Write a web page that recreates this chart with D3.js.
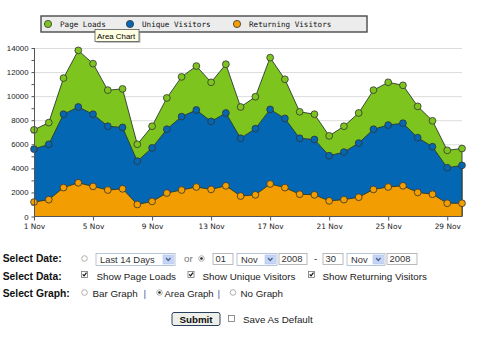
<!DOCTYPE html>
<html><head><meta charset="utf-8">
<script src="https://cdn.jsdelivr.net/npm/d3@7"></script>
<style>body{margin:0;background:#fff}svg{display:block}</style>
</head><body><svg id="c" width="500" height="341"></svg>
<script>
// Daily traffic, November 2008
const days = d3.range(1, 31);
const pageLoads = [7200,7800,11500,13800,12700,10500,10600,6000,7500,9850,11600,12500,11150,12650,9100,9950,13200,11400,8700,8500,6700,7500,8600,10500,11150,10900,9150,7950,5500,5650];
const uniqueVisitors = [5600,6000,8500,9100,8500,7500,7400,4600,5700,7250,8300,8850,7900,8600,6500,7300,8900,8150,6500,6400,5050,5350,6100,7250,7600,7750,6550,5800,4050,4250];
const returningVisitors = [1200,1400,2400,2800,2500,2200,2300,1000,1250,1950,2200,2450,2250,2550,1700,1800,2700,2400,1850,1800,1300,1400,1600,2250,2450,2550,2000,1850,1100,1100];
const seriesNames = ["Page Loads", "Unique Visitors", "Returning Visitors"];
const seriesColors = ["#7ec41f", "#0467b3", "#f29e03"];
const yTicks = [0,2000,4000,6000,8000,10000,12000,14000];
const xTickDays = [1,5,9,13,17,21,25,29];
const monthLabel = "Nov";

const svg = d3.select("#c");
const x = d3.scaleLinear().domain([1, 30]).range([34, 462]);
const y = d3.scaleLinear().domain([0, 14000]).range([216.5, 48]);

// grid
svg.append("g").selectAll("line").data(yTicks.slice(1)).join("line")
  .attr("x1", x(1)).attr("x2", x(30))
  .attr("y1", d => y(d) + 0.5).attr("y2", d => y(d) + 0.5)
  .attr("stroke", "#dcdcdc").attr("stroke-width", 1);

// areas, back to front
const allSeries = [pageLoads, uniqueVisitors, returningVisitors];
const area = d3.area().x((d, i) => x(days[i])).y0(y(0)).y1(d => y(d));
const line = d3.line().x((d, i) => x(days[i])).y(d => y(d));
allSeries.forEach((vals, s) => {
  svg.append("path").datum(vals).attr("d", area)
    .attr("fill", seriesColors[s]).attr("stroke", "none");
  svg.append("path").datum(vals).attr("d", line)
    .attr("fill", "none").attr("stroke", "#2a3a2a").attr("stroke-width", 0.9);
  svg.append("line").attr("x1", x(30)).attr("x2", x(30))
    .attr("y1", y(vals[29])).attr("y2", y(0))
    .attr("stroke", "#2a3a2a").attr("stroke-width", 0.9);
});
allSeries.forEach((vals, s) => {
  svg.append("g").selectAll("circle").data(vals).join("circle")
    .attr("cx", (d, i) => x(days[i])).attr("cy", d => y(d)).attr("r", 3.4)
    .attr("fill", seriesColors[s]).attr("stroke", "#333").attr("stroke-width", 0.8);
});

// axes
const yAxis = d3.axisLeft(y).tickValues(d3.range(0, 14001, 1000))
  .tickFormat(d => d % 2000 === 0 ? d : "").tickSize(3).tickPadding(3);
const gy = svg.append("g").attr("transform", "translate(34.5,0)").call(yAxis);
gy.select(".domain").attr("stroke", "#555").attr("d", `M0,${y(14000)}V${y(0)}`);
gy.selectAll(".tick line").attr("stroke", "#555");
gy.selectAll("text").attr("font-family", "Liberation Sans, Arial, sans-serif")
  .attr("font-size", "7.8px").attr("fill", "#222");

const xAxis = d3.axisBottom(x).tickValues(xTickDays)
  .tickFormat(d => d + " " + monthLabel).tickSize(4).tickPadding(3);
const gx = svg.append("g").attr("transform", `translate(0,${y(0)})`).call(xAxis);
gx.select(".domain").attr("stroke", "#555").attr("d", `M${x(1)},0H${x(30)}`);
gx.selectAll(".tick line").attr("stroke", "#555");
gx.selectAll("text").attr("font-family", "DejaVu Sans, sans-serif")
  .attr("font-size", "7.4px").attr("fill", "#222");

// legend
const lg = svg.append("g");
lg.append("rect").attr("x", 41).attr("y", 16).attr("width", 326).attr("height", 16)
  .attr("fill", "#ececec").attr("stroke", "#4a4a4a").attr("stroke-width", 1.4);
const legendX = [48, 130, 237];
seriesNames.forEach((n, i) => {
  lg.append("circle").attr("cx", legendX[i]).attr("cy", 24).attr("r", 3.6)
    .attr("fill", seriesColors[i]).attr("stroke", "#333").attr("stroke-width", 0.8);
  lg.append("text").attr("x", legendX[i] + 12).attr("y", 27).text(n)
    .attr("font-family", "DejaVu Sans Mono, Liberation Mono, monospace")
    .attr("font-size", "7.6px").attr("fill", "#111");
});

// tooltip
svg.append("rect").attr("x", 96.5).attr("y", 31).attr("width", 44).attr("height", 12)
  .attr("fill", "#999").attr("opacity", 0.6);
svg.append("rect").attr("x", 95).attr("y", 29.5).attr("width", 44).attr("height", 12)
  .attr("fill", "#ffffe1").attr("stroke", "#555").attr("stroke-width", 0.8);
svg.append("text").attr("x", 97).attr("y", 38.6).text("Area Chart")
  .attr("font-family", "Liberation Sans, Arial, sans-serif").attr("font-size", "7.9px").attr("fill", "#000");

// control panel
const ff = "Liberation Sans, Arial, sans-serif";
const form = svg.append("g");
function label(t, xx, yy, opts = {}) {
  return form.append("text").attr("x", xx).attr("y", yy).text(t)
    .attr("font-family", ff).attr("font-size", opts.size || "9.8px")
    .attr("font-weight", opts.bold ? "bold" : "normal")
    .attr("fill", opts.color || "#222");
}
function radio(cx, cy, on) {
  form.append("circle").attr("cx", cx).attr("cy", cy).attr("r", 2.8)
    .attr("fill", "#fff").attr("stroke", "#9a9a9a").attr("stroke-width", 0.8);
  if (on) form.append("circle").attr("cx", cx).attr("cy", cy).attr("r", 1.3).attr("fill", "#222");
}
function checkbox(x0, y0, on) {
  form.append("rect").attr("x", x0).attr("y", y0).attr("width", 6).attr("height", 6)
    .attr("fill", "#fff").attr("stroke", "#777").attr("stroke-width", 0.8);
  if (on) form.append("path").attr("d", `M${x0+1.2},${y0+2.8}L${x0+2.6},${y0+4.4}L${x0+5},${y0+1.2}`)
    .attr("fill", "none").attr("stroke", "#111").attr("stroke-width", 1.2);
}
function inputBox(x0, w, t) {
  form.append("rect").attr("x", x0).attr("y", 253.5).attr("width", w).attr("height", 11)
    .attr("fill", "#fff").attr("stroke", "#a8a8a8").attr("stroke-width", 0.8);
  label(t, x0 + 2.5, 262, { size: "9.4px", color: "#333" });
}
function selectBox(x0, w, t) {
  form.append("rect").attr("x", x0).attr("y", 253.5).attr("width", w).attr("height", 12)
    .attr("fill", "#fff").attr("stroke", "#a5b7cf").attr("stroke-width", 0.8);
  label(t, x0 + 4, 262.5, { size: "9.4px", color: "#333" });
  const bx = x0 + w - 12;
  form.append("rect").attr("x", bx).attr("y", 255).attr("width", 10.5).attr("height", 9)
    .attr("fill", "#c5d5f8").attr("stroke", "#b3c4ea").attr("stroke-width", 0.6);
  form.append("path").attr("d", `M${bx+3},${258}L${bx+5.25},${260.5}L${bx+7.5},${258}`)
    .attr("fill", "none").attr("stroke", "#4d6185").attr("stroke-width", 1.3);
}

// row: date
label("Select Date:", 2.7, 262, { bold: true, size: "10.3px", color: "#111" });
radio(84.5, 258.5, false);
selectBox(96, 79, "Last 14 Days");
label("or", 184, 262, { color: "#777" });
radio(201.5, 258.5, true);
inputBox(213, 20, "01");
selectBox(237, 40, monthLabel);
inputBox(279, 28, "2008");
label("-", 314, 262);
inputBox(323, 20, "30");
selectBox(347, 38, monthLabel);
inputBox(387, 30, "2008");

// row: data
label("Select Data:", 2.7, 279.5, { bold: true, size: "10.3px", color: "#111" });
checkbox(81.5, 271.5, true);
label("Show " + seriesNames[0], 96.5, 279.5);
checkbox(188, 271.5, true);
label("Show " + seriesNames[1], 202.5, 279.5);
checkbox(308.5, 271.5, true);
label("Show " + seriesNames[2], 322.5, 279.5);

// row: graph type
label("Select Graph:", 2.7, 296.5, { bold: true, size: "10.3px", color: "#111" });
radio(84.5, 292.5, false);
label("Bar Graph", 92.5, 296.5);
label("|", 143.5, 296.5, { color: "#4455aa" });
radio(159.5, 292.5, true);
label("Area Graph", 164.5, 296.5, { size: "9.5px" });
label("|", 217.5, 296.5, { color: "#4455aa" });
radio(233, 292.5, false);
label("No Graph", 240.5, 296.5);

// submit row
form.append("rect").attr("x", 172).attr("y", 312.5).attr("width", 48).attr("height", 13).attr("rx", 2)
  .attr("fill", "#efefea").attr("stroke", "#2b3f5e").attr("stroke-width", 1);
label("Submit", 196, 322.5, { bold: true, size: "9.8px", color: "#111" }).attr("text-anchor", "middle");
checkbox(228.5, 315.5, false);
label("Save As Default", 243, 323);
</script></body></html>
